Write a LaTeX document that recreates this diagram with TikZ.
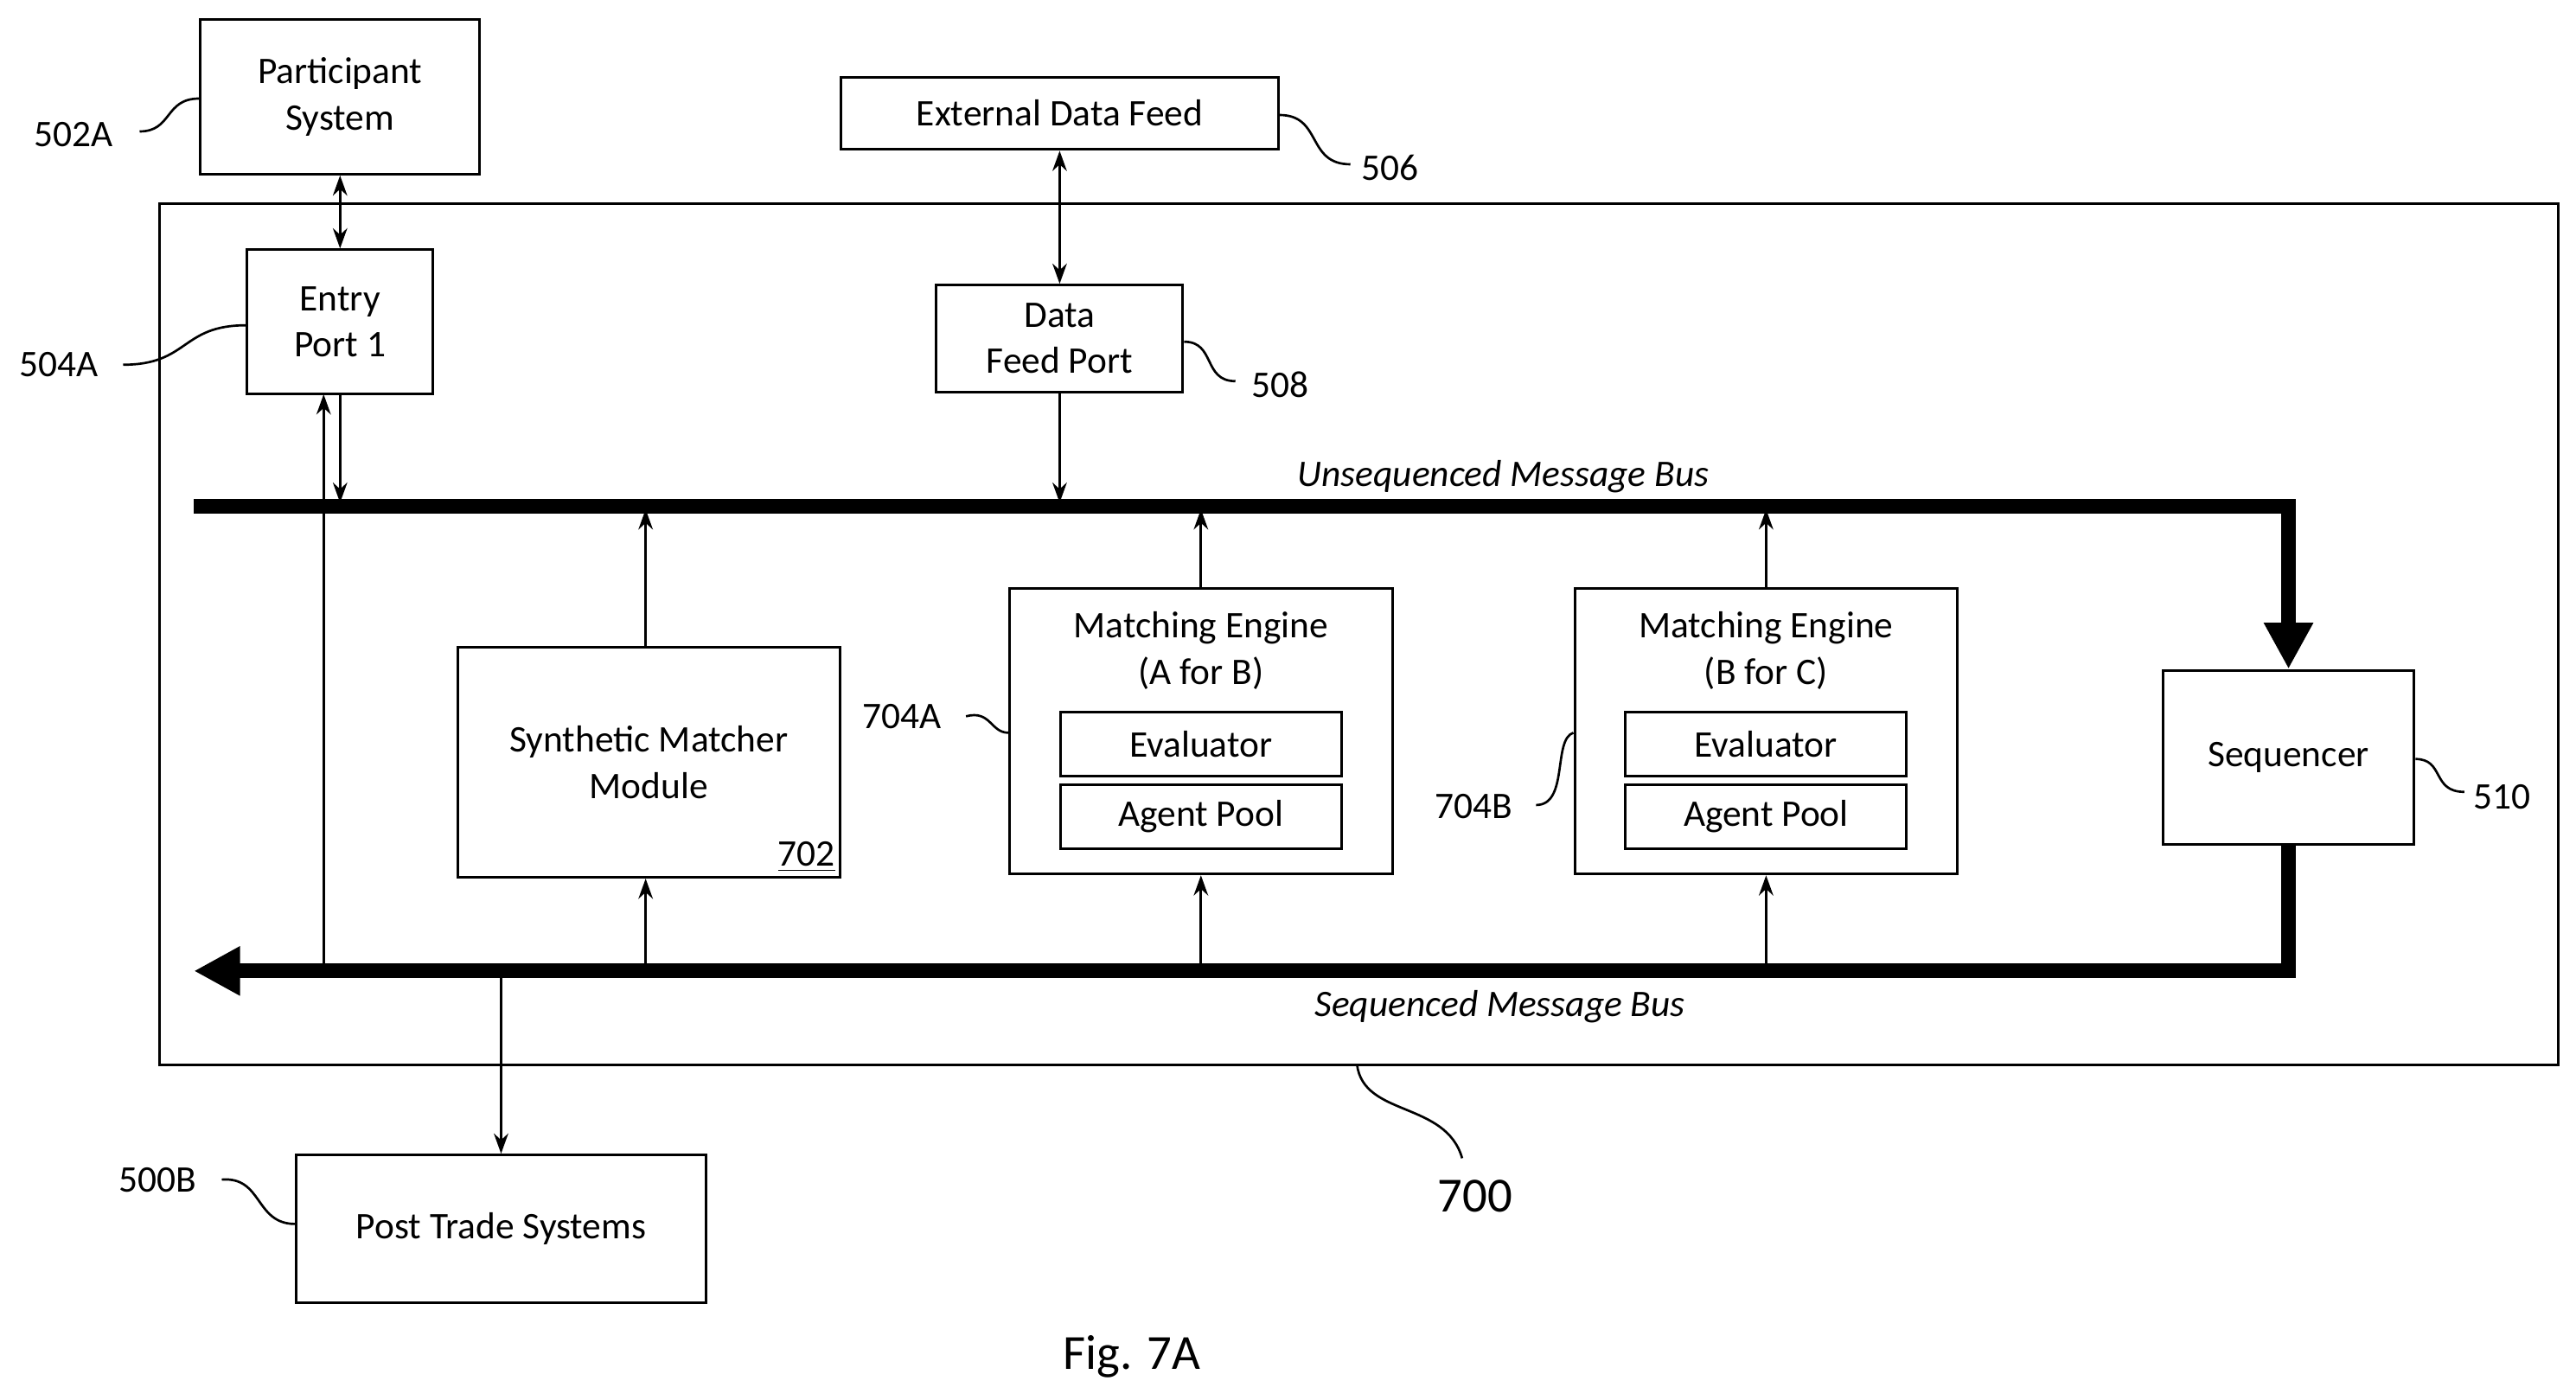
\documentclass[tikz,border=0pt]{standalone}
\usepackage{fontspec}
\setmainfont{Carlito}
\usetikzlibrary{arrows.meta,positioning}

\begin{document}
\begin{tikzpicture}
    [
      x=0.02cm, y=-0.02cm,
      box/.style={draw, line width=0.9pt, inner sep=0pt, align=center, font=\fontsize{13}{16}\selectfont},
      ref/.style={font=\fontsize{13}{16}\selectfont},
      lead/.style={line width=0.8pt},
      post/.style={-{Stealth[length=7pt,width=5pt]}, line width=0.8pt},
      both/.style={{Stealth[length=7pt,width=5pt]}-{Stealth[length=7pt,width=5pt]}, line width=0.8pt},
      bus/.style={line width=5pt, -{Triangle[length=16pt,width=16pt]}},
    ]

    \useasboundingbox (0,0) rectangle (1568,852);

    \node (participant) [box, minimum width=170*0.02cm, minimum height=94*0.02cm] at (207,59) {Participant\\System};
    \node (feed) [box, minimum width=266*0.02cm, minimum height=44*0.02cm] at (645,69) {External Data Feed};
    \draw [line width=0.9pt] (97,124) rectangle (1557,648);

    \node (entry) [box, minimum width=113*0.02cm, minimum height=88*0.02cm] at (207,196) {Entry\\Port 1};
    \node (feed-port) [box, minimum width=150*0.02cm, minimum height=65*0.02cm] at (645,206) {Data\\Feed Port};

    \node (synth) [box, minimum width=233*0.02cm, minimum height=140*0.02cm] at (395,464) {Synthetic Matcher\\Module};
    \node [ref, anchor=south east, inner sep=2pt] at (synth.south east) {\underline{702}};

    \node (me-a) [box, minimum width=233*0.02cm, minimum height=174*0.02cm] at (731,445) {};
    \node [ref, align=center] at (731,396) {Matching Engine\\(A for B)};
    \node (eval-a) [box, minimum width=171*0.02cm, minimum height=39*0.02cm] at (731,453) {Evaluator};
    \node (pool-a) [box, minimum width=171*0.02cm, minimum height=39*0.02cm] at (731,497) {Agent Pool};

    \node (me-b) [box, minimum width=233*0.02cm, minimum height=174*0.02cm] at (1075,445) {};
    \node [ref, align=center] at (1075,396) {Matching Engine\\(B for C)};
    \node (eval-b) [box, minimum width=171*0.02cm, minimum height=39*0.02cm] at (1075,453) {Evaluator};
    \node (pool-b) [box, minimum width=171*0.02cm, minimum height=39*0.02cm] at (1075,497) {Agent Pool};

    \node (sequencer) [box, minimum width=153*0.02cm, minimum height=106*0.02cm] at (1393,461) {Sequencer};
    \node (post-trade) [box, minimum width=249*0.02cm, minimum height=90*0.02cm] at (305,748) {Post Trade Systems};

    % message buses
    \coordinate (ubus-start) at (118,308);
    \coordinate (ubus-corner) at (1393,308);
    \coordinate (sbus-corner) at (1393,591);
    \coordinate (sbus-end) at (118,591);
    \draw [bus] (ubus-start) -- (ubus-corner) -- (sequencer.north);
    \draw [bus] (sequencer.south) -- (sbus-corner) -- (sbus-end);
    \node [ref, font=\fontsize{13}{16}\selectfont\itshape] at (915,290) {Unsequenced Message Bus};
    \node [ref, font=\fontsize{13}{16}\selectfont\itshape] at (913,613) {Sequenced Message Bus};

    \path
    (participant) edge [both] (entry)
    (feed) edge [both] (feed-port)
    (feed-port) edge [post] (645,306)
    (entry.south) edge [post] (207,306)
    (197,591) edge [post] (197,240)
    (synth.north -| 393,0) edge [post] (393,310)
    (393,589) edge [post] (synth.south -| 393,0)
    (me-a) edge [post] (731,310)
    (731,589) edge [post] (me-a)
    (me-b) edge [post] (1075,310)
    (1075,589) edge [post] (me-b)
    (305,593) edge [post] (post-trade)
    ;

    % reference leads
    \node (l502a) [ref] at (45,82) {502A};
    \draw [lead] (85,80) .. controls (105,80) and (100,60) .. (participant.west |- 0,60);
    \node (l506) [ref] at (846,102) {506};
    \draw [lead] (feed.east |- 0,70) .. controls (805,70) and (795,100) .. (822,100);
    \node (l504a) [ref] at (36,222) {504A};
    \draw [lead] (75,222) .. controls (115,222) and (110,198) .. (entry.west |- 0,198);
    \node (l508) [ref] at (779,234) {508};
    \draw [lead] (feed-port.east |- 0,208) .. controls (740,208) and (732,232) .. (752,232);
    \node (l704a) [ref] at (549,436) {704A};
    \draw [lead] (588,436) .. controls (603,432) and (603,446) .. (me-a.west |- 0,446);
    \node (l704b) [ref] at (897,491) {704B};
    \draw [lead] (935,490) .. controls (955,490) and (945,450) .. (me-b.west |- 0,446);
    \node (l510) [ref] at (1523,485) {510};
    \draw [lead] (sequencer.east |- 0,462) .. controls (1488,462) and (1480,482) .. (1500,482);
    \node (l500b) [ref] at (96,718) {500B};
    \draw [lead] (135,718) .. controls (160,716) and (155,745) .. (post-trade.west |- 0,745);
    \node (l700) [font=\fontsize{17}{20}\selectfont] at (898,728) {700};
    \draw [lead] (826,648) .. controls (830,680) and (880,670) .. (890,705);

    \node (caption) [font=\fontsize{17}{20}\selectfont] at (689,826) {Fig. 7A};

  \end{tikzpicture}
\end{document}
